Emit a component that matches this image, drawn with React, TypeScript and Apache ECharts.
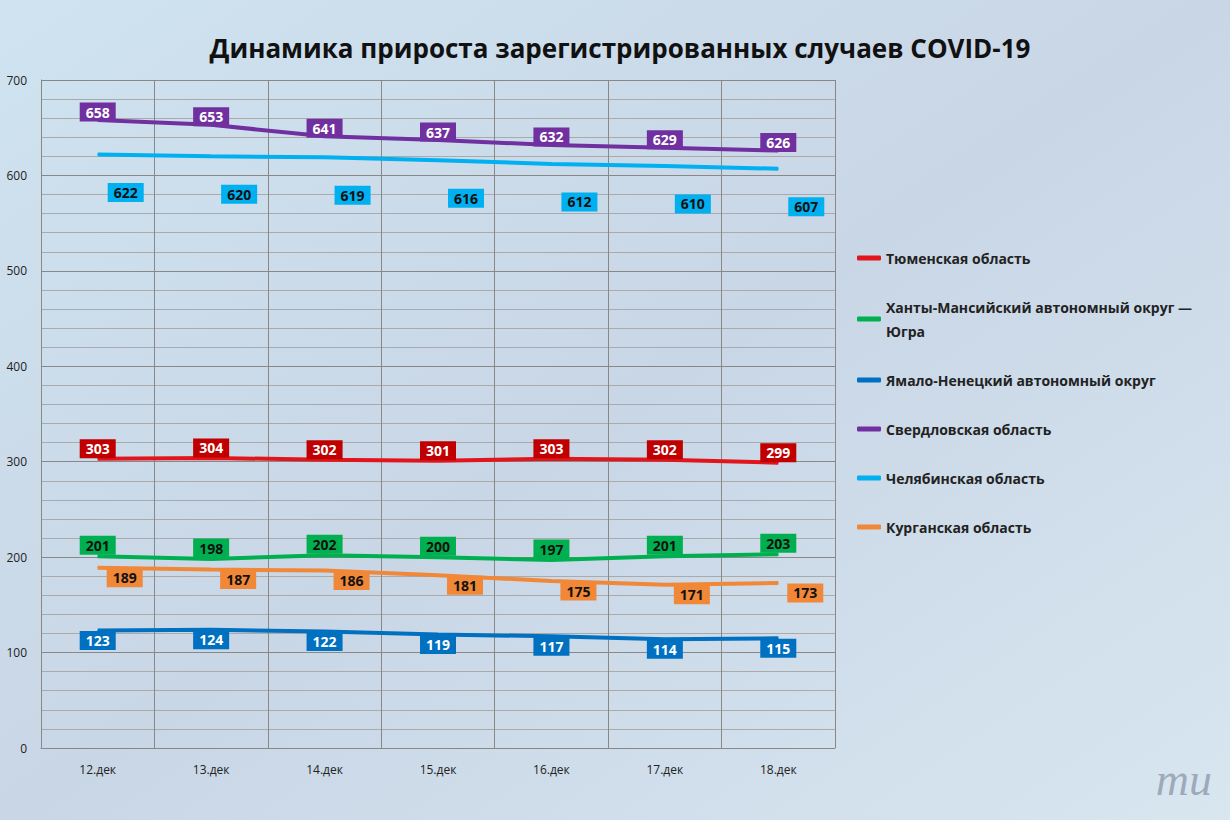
import React, { useEffect, useRef } from "react";
import * as echarts from "echarts";

const days = ["12.дек", "13.дек", "14.дек", "15.дек", "16.дек", "17.дек", "18.дек"];
const tyumen = [303, 304, 302, 301, 303, 302, 299];
const hmao = [201, 198, 202, 200, 197, 201, 203];
const yamal = [123, 124, 122, 119, 117, 114, 115];
const sverdl = [658, 653, 641, 637, 632, 629, 626];
const chel = [622, 620, 619, 616, 612, 610, 607];
const kurgan = [189, 187, 186, 181, 175, 171, 173];

function line(name, data, color, boxColor, textColor, dx, dy) {
  return {
    name,
    type: "line",
    data,
    showSymbol: true,
    symbol: "circle",
    symbolSize: 1,
    lineStyle: { width: 4, color },
    itemStyle: { color },
    label: {
      show: true,
      position: "inside",
      offset: [dx, dy],
      backgroundColor: boxColor,
      color: textColor,
      fontWeight: "bold",
      fontSize: 14,
      fontFamily: "Open Sans",
      padding: [3, 6, 2, 6],
    },
  };
}

export default function App() {
  const ref = useRef(null);
  useEffect(() => {
    const chart = echarts.init(ref.current, null, { renderer: "svg" });
    chart.setOption({
      animation: false,
      backgroundColor: {
        type: "linear", x: 0, y: 0, x2: 1, y2: 1,
        colorStops: [
          { offset: 0, color: "#cfe3f0" },
          { offset: 0.5, color: "#c9d6e6" },
          { offset: 1, color: "#d8e6f0" },
        ],
      },
      textStyle: { fontFamily: "Open Sans" },
      title: {
        text: "Динамика прироста зарегистрированных случаев COVID-19",
        left: 615, textAlign: "center", top: 30,
        textStyle: { fontSize: 26, fontWeight: "bold", color: "#111", fontFamily: "Open Sans" },
      },
      legend: {
        orient: "vertical", left: 852, top: 241, itemGap: 25,
        icon: "roundRect", itemWidth: 24, itemHeight: 5,
        textStyle: { fontSize: 14, fontWeight: "bold", color: "#222", lineHeight: 24 },
        formatter: (n) => n === "Ханты-Мансийский автономный округ — Югра" ? "Ханты-Мансийский автономный округ —\nЮгра" : n,
        data: ["Тюменская область", "Ханты-Мансийский автономный округ — Югра", "Ямало-Ненецкий автономный округ",
          "Свердловская область", "Челябинская область", "Курганская область"],
      },
      grid: { left: 41, right: 395, top: 80, bottom: 72 },
      xAxis: {
        type: "category", data: days, boundaryGap: true,
        axisLine: { lineStyle: { color: "#888" } },
        axisTick: { show: false },
        axisLabel: { color: "#222", fontSize: 12, margin: 15 },
        splitLine: { show: true, interval: 0, lineStyle: { color: "#888" } },
      },
      yAxis: {
        type: "value", min: 0, max: 700, interval: 100,
        axisLine: { show: true, lineStyle: { color: "#888" } },
        axisLabel: { color: "#222", fontSize: 12, margin: 14 },
        splitLine: { lineStyle: { color: "#888" } },
        minorTick: { show: false, splitNumber: 5 },
        minorSplitLine: { show: true, lineStyle: { color: "#aaa" } },
      },
      series: [
        line("Тюменская область", tyumen, "#e3151c", "#c00000", "#fff", 0, -10),
        line("Ханты-Мансийский автономный округ — Югра", hmao, "#00b050", "#00b050", "#111", 0, -11),
        line("Ямало-Ненецкий автономный округ", yamal, "#0070c0", "#0070c0", "#fff", 0, 10),
        line("Свердловская область", sverdl, "#7030a0", "#7030a0", "#fff", 0, -8),
        line("Челябинская область", chel, "#00b0f0", "#00b0f0", "#111", 28, 38),
        line("Курганская область", kurgan, "#f08838", "#f08838", "#111", 27, 10),
      ],
      graphic: [
        { type: "text", right: 18, bottom: 18, style: { text: "ти", fontSize: 46, fontStyle: "italic", fontFamily: "Liberation Serif", fill: "rgba(120,130,150,0.6)" } },
      ],
    });
    return () => chart.dispose();
  }, []);
  return <div ref={ref} style={{ position: "fixed", left: 0, top: 0, width: 1230, height: 820 }} />;
}
